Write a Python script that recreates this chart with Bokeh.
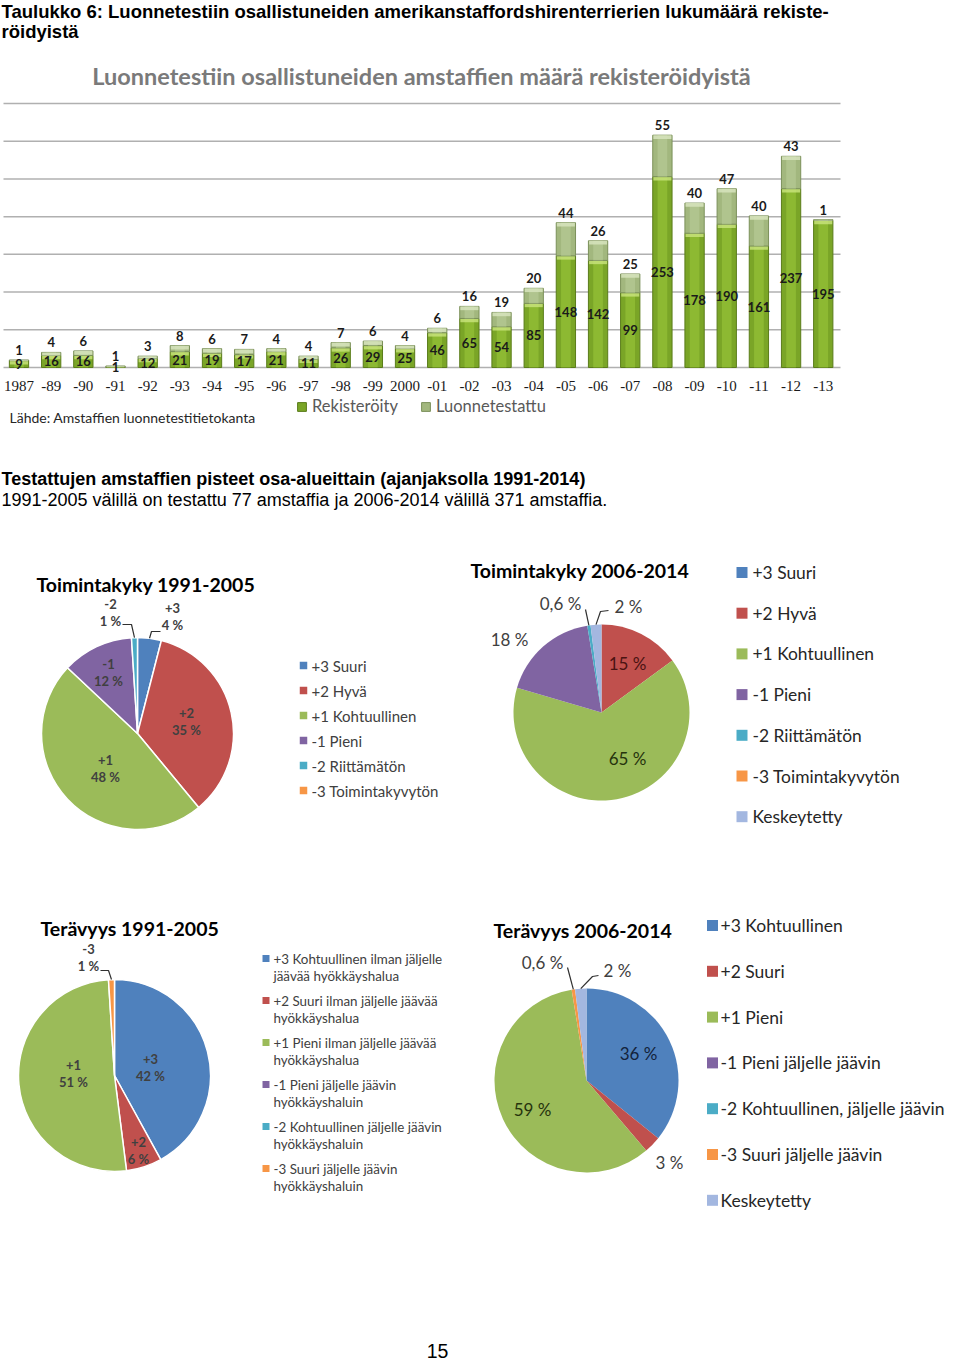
import numpy as np
from bokeh.plotting import figure
from bokeh.models import Range1d, ColumnDataSource, Legend, LegendItem
from bokeh.core.properties import value
from bokeh.embed import file_html
from bokeh.resources import INLINE

# ---------------- data ----------------
years = ["1987", "-89", "-90", "-91", "-92", "-93", "-94", "-95", "-96", "-97", "-98",
         "-99", "2000", "-01", "-02", "-03", "-04", "-05", "-06", "-07", "-08", "-09",
         "-10", "-11", "-12", "-13"]
registered = [9, 16, 16, 1, 12, 21, 19, 17, 21, 11, 26, 29, 25, 46, 65, 54, 85, 148,
              142, 99, 253, 178, 190, 161, 237, 195]
tested = [1, 4, 6, 1, 3, 8, 6, 7, 4, 4, 7, 6, 4, 6, 16, 19, 20, 44, 26, 25, 55, 40,
          47, 40, 43, 1]
grid_ticks = [0, 50, 100, 150, 200, 250, 300, 350]

codes = ["+3", "+2", "+1", "-1", "-2", "-3", "K"]

toim_names_91 = ["+3 Suuri", "+2 Hyvä", "+1 Kohtuullinen", "-1 Pieni",
                 "-2 Riittämätön", "-3 Toimintakyvytön"]
toim_pct_91 = [4, 35, 48, 12, 1, 0]

toim_names_06 = ["+3 Suuri", "+2 Hyvä", "+1 Kohtuullinen", "-1 Pieni",
                 "-2 Riittämätön", "-3 Toimintakyvytön", "Keskeytetty"]
toim_pct_06 = [0, 15, 65, 18, 0.6, 0, 2]

ter_names_91 = ["+3 Kohtuullinen ilman jäljelle\njäävää hyökkäyshalua",
                "+2 Suuri ilman jäljelle jäävää\nhyökkäyshalua",
                "+1 Pieni ilman jäljelle jäävää\nhyökkäyshalua",
                "-1 Pieni jäljelle jäävin\nhyökkäyshaluin",
                "-2 Kohtuullinen jäljelle jäävin\nhyökkäyshaluin",
                "-3 Suuri jäljelle jäävin\nhyökkäyshaluin"]
ter_pct_91 = [42, 6, 51, 0, 0, 1]

ter_names_06 = ["+3 Kohtuullinen", "+2 Suuri", "+1 Pieni", "-1 Pieni  jäljelle  jäävin",
                "-2 Kohtuullinen,  jäljelle  jäävin", "-3 Suuri jäljelle  jäävin",
                "Keskeytetty"]
ter_pct_06 = [36, 3, 59, 0, 0, 0.6, 2]

# ---------------- styles / layout ----------------
SANS = "Liberation Sans"
CAL = "Lato"
SERIF = "Liberation Serif"
PALETTE = ["#4F81BD", "#C0504D", "#9BBB59", "#8064A2", "#4BACC6", "#F79646", "#A3B7E0"]

PX0, PY0, PW, PH = 0, 0, 956, 1365          # page area covered by the figure

# bar chart placement (page pixels)
B_FIRST_X, B_STEP = 18.5, 32.17              # centre of first category, category spacing
B_BASE_Y, B_TOP_Y, B_TOP_V = 367, 103, 350   # baseline, top grid line and its value
B_K = (B_BASE_Y - B_TOP_Y) / B_TOP_V         # px per unit
B_LEFT, B_RIGHT = 3, 840

p = figure(width=PW, height=PH, x_range=Range1d(PX0, PX0 + PW),
           y_range=Range1d(-(PY0 + PH), -PY0), output_backend="svg",
           toolbar_location=None, x_axis_type=None, y_axis_type=None, min_border=0)
p.outline_line_color = None
p.background_fill_color = "white"
p.border_fill_color = "white"

p.extra_x_ranges = {"bx": Range1d((PX0 - B_FIRST_X) / B_STEP,
                                  (PX0 + PW - B_FIRST_X) / B_STEP)}
p.extra_y_ranges = {"by": Range1d((B_BASE_Y - (PY0 + PH)) / B_K, (B_BASE_Y - PY0) / B_K)}
BR = dict(x_range_name="bx", y_range_name="by")


def txt(x, y, s, size, font=SANS, style="normal", color="#000000", align="left",
        baseline="middle"):
    p.text(x=[x], y=[-y], text=[s], text_font=value(font), text_font_size=value(size),
           text_font_style=value(style), text_color=value(color),
           text_align=value(align), text_baseline=value(baseline))


# ---------------- header texts ----------------
txt(1, 11, "Taulukko 6: Luonnetestiin osallistuneiden amerikanstaffordshirenterrierien "
    "lukumäärä rekiste-", "18.5px", style="bold")
txt(1, 31, "röidyistä", "18.5px", style="bold")
txt(421, 75, "Luonnetestiin osallistuneiden amstaffien määrä rekisteröidyistä", "23.5px",
    font=CAL, style="bold", color="#7a7a7a", align="center")

# ---------------- bar chart ----------------
bx_left = (B_LEFT - B_FIRST_X) / B_STEP
bx_right = (B_RIGHT - B_FIRST_X) / B_STEP
p.segment(x0=[bx_left] * len(grid_ticks), x1=[bx_right] * len(grid_ticks),
          y0=grid_ticks, y1=grid_ticks, line_color="#b0b0b0", line_width=1.5, **BR)

idx = np.arange(len(years))
reg = np.array(registered, dtype=float)
tst = np.array(tested, dtype=float)
tot = reg + tst
src = ColumnDataSource(dict(x=idx, reg=reg, tot=tot,
                            reg_cap=np.maximum(0, reg - 5), tot_cap=np.maximum(reg, tot - 5),
                            reg_mid=reg / 2, zero=np.zeros(len(years)),
                            years=years,
                            reg_txt=[str(v) for v in registered],
                            tst_txt=[str(v) for v in tested]))

r1 = p.vbar(x="x", bottom=0, top="reg", width=0.6, fill_color="#7aa527",
            line_color="#5a7c1a", line_width=1, source=src, **BR)
p.vbar(x="x", bottom=0, top="reg", width=0.3, fill_color="#9ccb3d", fill_alpha=0.55,
       line_color=None, source=src, **BR)
p.vbar(x="x", bottom="reg_cap", top="reg", width=0.56, fill_color="#cbe57e",
       fill_alpha=0.8, line_color=None, source=src, **BR)
r2 = p.vbar(x="x", bottom="reg", top="tot", width=0.6, fill_color="#a2b77e",
            line_color="#7b905a", line_width=1, source=src, **BR)
p.vbar(x="x", bottom="reg", top="tot", width=0.3, fill_color="#bcd09a", fill_alpha=0.55,
       line_color=None, source=src, **BR)
p.vbar(x="x", bottom="tot_cap", top="tot", width=0.56, fill_color="#d7e4bd",
       fill_alpha=0.85, line_color=None, source=src, **BR)

p.text(x="x", y="reg_mid", text="reg_txt", source=src, text_font=value(CAL),
       text_font_size=value("13px"), text_font_style=value("bold"),
       text_color=value("#1a1a1a"), text_align=value("center"),
       text_baseline=value("middle"), **BR)
p.text(x="x", y="tot", text="tst_txt", source=src, text_font=value(CAL),
       text_font_size=value("13px"), text_font_style=value("bold"),
       text_color=value("#1a1a1a"), text_align=value("center"),
       text_baseline=value("bottom"), y_offset=-5, **BR)
# category (tick) labels
p.text(x="x", y="zero", text="years", source=src, text_font=value(SERIF),
       text_font_size=value("15px"), text_color=value("#1a1a1a"),
       text_align=value("center"), text_baseline=value("middle"), y_offset=18, **BR)

leg = Legend(items=[LegendItem(label="Rekisteröity", renderers=[r1]),
                    LegendItem(label="Luonnetestattu", renderers=[r2])],
             orientation="horizontal", location=(296 - PX0, (PY0 + PH) - 416),
             margin=0, padding=2, glyph_width=11, glyph_height=11, label_height=14,
             label_standoff=5, spacing=22, label_text_font=CAL,
             label_text_font_size="16.5px", label_text_color="#595959",
             border_line_color=None, background_fill_alpha=0)
p.add_layout(leg)
txt(9, 417, "Lähde: Amstaffien luonnetestitietokanta", "14px", font=CAL, color="#262626")

# ---------------- texts between ----------------
txt(1, 478, "Testattujen amstaffien pisteet osa-alueittain (ajanjaksolla 1991-2014)",
    "18px", style="bold")
txt(1, 499, "1991-2005 välillä on testattu 77 amstaffia ja 2006-2014 välillä 371 "
    "amstaffia.", "18px")
txt(437, 1350, "15", "19.5px", align="center")


def pct_text(v):
    return f"{v:g} %".replace(".", ",")


def draw_pie(vals, names, cx, cy, R, border, title, title_xy, two_line, label_size,
             label_bold, labels, legend):
    vals = np.array(vals, dtype=float)
    cum = np.concatenate([[0.0], np.cumsum(vals)]) / vals.sum()
    keep = [i for i, v in enumerate(vals) if v > 0]
    s = ColumnDataSource(dict(
        x=[cx] * len(keep), y=[-cy] * len(keep),
        a0=[np.pi / 2 - 2 * np.pi * cum[i] for i in keep],
        a1=[np.pi / 2 - 2 * np.pi * cum[i + 1] for i in keep],
        c=[PALETTE[i] for i in keep]))
    p.wedge(x="x", y="y", radius=R, start_angle="a0", end_angle="a1", direction="clock",
            fill_color="c", line_color=border if border else None,
            line_width=1.5, source=s)
    txt(title_xy[0], title_xy[1], title, "19.5px", font=CAL, style="bold", color="#000000")
    style = "bold" if label_bold else "normal"
    for i, spec in labels.items():
        lx, ly = cx + spec["d"][0], cy + spec["d"][1]
        col = spec.get("color", "#404040")
        if two_line:
            txt(lx, ly - 8.5, codes[i], label_size, font=CAL, style=style, color=col,
                align="center")
            txt(lx, ly + 8.5, pct_text(vals[i]), label_size, font=CAL, style=style,
                color=col, align="center")
        else:
            txt(lx, ly, pct_text(vals[i]), label_size, font=CAL, style=style, color=col,
                align="center")
        if "leader" in spec:
            th = np.pi * (cum[i] + cum[i + 1])
            pts = [(cx + a, cy + b) for a, b in spec["leader"]]
            pts.append((cx + R * np.sin(th), cy - R * np.cos(th)))
            p.line(x=[q[0] for q in pts], y=[-q[1] for q in pts], line_color="#303030",
                   line_width=1.2)
    mx, tx, y0, dy, msize, fsize, lh, tcol = legend
    for k, name in enumerate(names):
        yk = y0 + k * dy
        p.rect(x=[mx], y=[-yk], width=msize, height=msize, fill_color=PALETTE[k],
               line_color=None)
        for j, line in enumerate(name.split("\n")):
            txt(tx, yk + j * lh, line, fsize, font=CAL, color=tcol)


draw_pie(toim_pct_91, toim_names_91, 137, 733, 96, "white", "Toimintakyky 1991-2005",
         (36, 584), True, "13px", True,
         {0: dict(d=(35, -117), leader=[(23, -102), (14, -102)]),
          1: dict(d=(49, -12)),
          2: dict(d=(-32, 35)),
          3: dict(d=(-29, -61)),
          4: dict(d=(-27, -121), leader=[(-15, -109), (-6, -109)])},
         (303, 311, 665, 25, 7.5, "15px", 17, "#404040"))

draw_pie(toim_pct_06, toim_names_06, 601, 712, 88, None, "Toimintakyky 2006-2014",
         (470, 570), False, "17px", False,
         {1: dict(d=(26, -49), color="#4a1312"),
          2: dict(d=(26, 46), color="#26330d"),
          3: dict(d=(-92, -73)),
          4: dict(d=(-41, -109), leader=[(-16, -103)]),
          6: dict(d=(27, -106), leader=[(7, -102), (-1, -101)])},
         (741.5, 752, 572, 40.7, 11, "17.4px", 17, "#262626"))

draw_pie(ter_pct_91, ter_names_91, 114, 1075, 96, "white", "Terävyys 1991-2005",
         (40, 928), True, "13px", True,
         {0: dict(d=(36, -8)),
          1: dict(d=(24, 75)),
          2: dict(d=(-41, -2)),
          5: dict(d=(-26, -118), leader=[(-14, -105), (-6, -105)])},
         (265.5, 273, 958, 42, 7, "13.4px", 17.4, "#404040"))

draw_pie(ter_pct_06, ter_names_06, 586, 1080, 92, None, "Terävyys 2006-2014",
         (493, 930), False, "17px", False,
         {0: dict(d=(52, -27), color="#13233b"),
          1: dict(d=(83, 82)),
          2: dict(d=(-54, 29), color="#26330d"),
          5: dict(d=(-44, -118), leader=[(-19, -113)]),
          6: dict(d=(31, -110), leader=[(12, -105), (6, -104)])},
         (712, 720, 925, 45.8, 11, "17.5px", 17, "#262626"))

open("out.html", "w").write(file_html(p, INLINE))
